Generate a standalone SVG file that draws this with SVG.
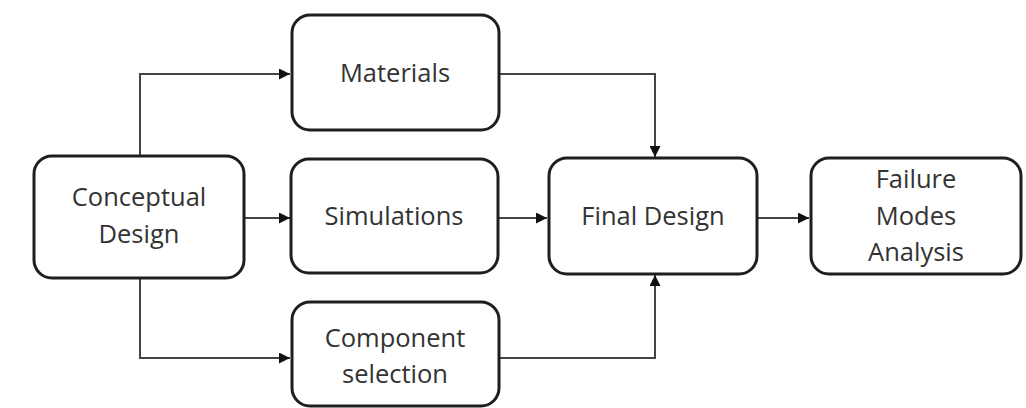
<svg xmlns="http://www.w3.org/2000/svg" width="1026" height="408" viewBox="0 0 1026 408">
<style>
.box{fill:#fff;stroke:#1e1e1e;stroke-width:3}
.lbl{font-family:"Open Sans","Liberation Sans",sans-serif;font-size:25.5px;fill:#333;text-anchor:middle}
.con{fill:none;stroke:#444;stroke-width:2}
</style>
<defs>
<marker id="arr" viewBox="0 0 10 10" refX="10" refY="5" markerWidth="11" markerHeight="11" markerUnits="userSpaceOnUse" orient="auto">
<path d="M0,0 L10,5 L0,10 Z" fill="#111"/>
</marker>
</defs>
<rect width="1026" height="408" fill="#fff"/>
<g id="connectors">
<path class="con" d="M140,155 V74 H290" marker-end="url(#arr)"/>
<path class="con" d="M500,74 H655 V157" marker-end="url(#arr)"/>
<path class="con" d="M245,218 H290" marker-end="url(#arr)"/>
<path class="con" d="M498,218 H547" marker-end="url(#arr)"/>
<path class="con" d="M758,218 H809" marker-end="url(#arr)"/>
<path class="con" d="M140,279 V358 H290" marker-end="url(#arr)"/>
<path class="con" d="M500,358 H655 V275" marker-end="url(#arr)"/>
</g>
<g id="conceptual">
<rect class="box" x="34" y="156" width="210" height="122" rx="18"/>
<text class="lbl" x="139" y="206">Conceptual</text>
<text class="lbl" x="139" y="243">Design</text>
</g>
<g id="materials">
<rect class="box" x="292" y="15" width="207" height="115" rx="18"/>
<text class="lbl" x="395" y="82">Materials</text>
</g>
<g id="simulations">
<rect class="box" x="291" y="159" width="207" height="114" rx="18"/>
<text class="lbl" x="394" y="225">Simulations</text>
</g>
<g id="component">
<rect class="box" x="292" y="302" width="207" height="104" rx="18"/>
<text class="lbl" x="395" y="347">Component</text>
<text class="lbl" x="395" y="383">selection</text>
</g>
<g id="final">
<rect class="box" x="549" y="158" width="208" height="116" rx="18"/>
<text class="lbl" x="653" y="225">Final Design</text>
</g>
<g id="failure">
<rect class="box" x="811" y="158" width="210" height="116" rx="18"/>
<text class="lbl" x="916" y="188">Failure</text>
<text class="lbl" x="916" y="225">Modes</text>
<text class="lbl" x="916" y="261">Analysis</text>
</g>
</svg>
